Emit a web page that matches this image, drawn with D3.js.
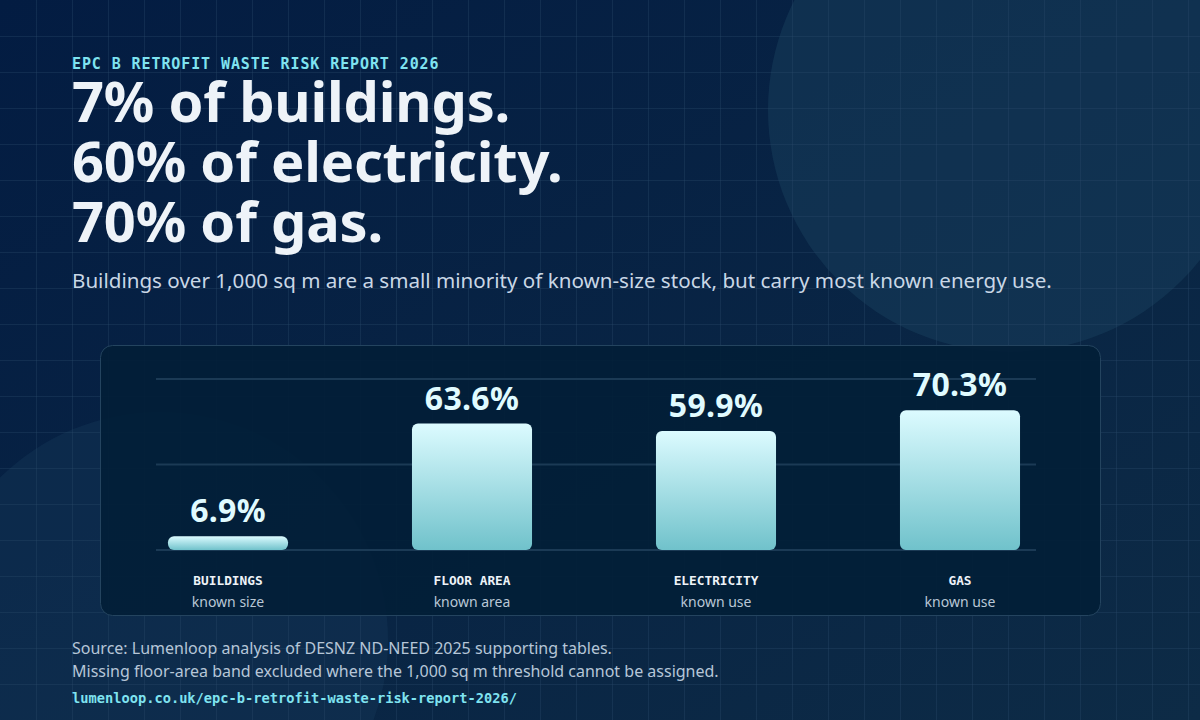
<!DOCTYPE html>
<html>
<head>
<meta charset="utf-8">
<script src="https://cdn.jsdelivr.net/npm/d3@7"></script>
<style>
  body { margin: 0; background: #041d42; }
  svg { display: block; }
</style>
</head>
<body>
<svg id="chart" width="1200" height="720"></svg>
<script>
const categories = ["BUILDINGS", "FLOOR AREA", "ELECTRICITY", "GAS"];
const subLabels = ["known size", "known area", "known use", "known use"];
const shares = [6.9, 63.6, 59.9, 70.3];
const gridTicks = [0, 43, 86];

const kicker = "EPC B RETROFIT WASTE RISK REPORT 2026";
const headline = ["7% of buildings.", "60% of electricity.", "70% of gas."];
const subtitle = "Buildings over 1,000 sq m are a small minority of known-size stock, but carry most known energy use.";
const notes = [
  "Source: Lumenloop analysis of DESNZ ND-NEED 2025 supporting tables.",
  "Missing floor-area band excluded where the 1,000 sq m threshold cannot be assigned.",
];
const link = "lumenloop.co.uk/epc-b-retrofit-waste-risk-report-2026/";

const sans = "'Noto Sans', 'Open Sans', sans-serif";
const mono = "'DejaVu Sans Mono', monospace";

const svg = d3.select("#chart");
const width = 1200, height = 720;
const defs = svg.append("defs");

// background
const bg = defs.append("linearGradient").attr("id", "bg")
  .attr("x1", 0).attr("y1", 0).attr("x2", 1).attr("y2", 1);
bg.append("stop").attr("offset", "0%").attr("stop-color", "#031c42");
bg.append("stop").attr("offset", "100%").attr("stop-color", "#0d2b46");
svg.append("rect").attr("width", width).attr("height", height).attr("fill", "url(#bg)");

svg.append("circle").attr("cx", 1010).attr("cy", 110).attr("r", 242)
  .attr("fill", "#1a4360").attr("opacity", 0.45);
svg.append("circle").attr("cx", 160).attr("cy", 640).attr("r", 228)
  .attr("fill", "#1a3f60").attr("opacity", 0.3);

const grid = svg.append("g").attr("stroke", "#2a4a6a").attr("stroke-opacity", 0.35);
grid.selectAll("line.v").data(d3.range(36, width, 36)).enter().append("line")
  .attr("x1", (d) => d + 0.5).attr("x2", (d) => d + 0.5).attr("y1", 0).attr("y2", height);
grid.selectAll("line.h").data(d3.range(36, height, 36)).enter().append("line")
  .attr("y1", (d) => d + 0.5).attr("y2", (d) => d + 0.5).attr("x1", 0).attr("x2", width);

// header
svg.append("text").attr("x", 72).attr("y", 69).text(kicker)
  .style("font-family", mono).style("font-weight", 700).style("font-size", "15px")
  .style("letter-spacing", "0.9px").attr("fill", "#7fe3f0");

svg.append("g").selectAll("text").data(headline).enter().append("text")
  .attr("x", 72).attr("y", (d, i) => 122 + i * 60).text((d) => d)
  .style("font-family", sans).style("font-weight", 700).style("font-size", "56px")
  .style("letter-spacing", "-0.2px").attr("fill", "#eef3f8");

svg.append("text").attr("x", 72).attr("y", 288).text(subtitle)
  .style("font-family", sans).style("font-size", "20.6px").attr("fill", "#c9d7e6");

// panel
const panel = { x: 100, y: 345, w: 1000, h: 270 };
svg.append("rect").attr("x", panel.x + 0.5).attr("y", panel.y + 0.5)
  .attr("width", panel.w).attr("height", panel.h).attr("rx", 12)
  .attr("fill", "#021e37").attr("fill-opacity", 0.92)
  .attr("stroke", "#24445f").attr("stroke-width", 1);

const x = d3.scaleBand().domain(categories).range([106, 1082])
  .paddingInner(0.508).paddingOuter(0.254);
const y = d3.scaleLinear().domain([0, 86]).range([550, 379]);

svg.append("g").selectAll("line").data(gridTicks).enter().append("line")
  .attr("x1", 156).attr("x2", 1036)
  .attr("y1", (d) => y(d)).attr("y2", (d) => y(d))
  .attr("stroke", "#1b3a55").attr("stroke-width", 2);

const barGrad = defs.append("linearGradient").attr("id", "bar")
  .attr("x1", 0).attr("y1", 0).attr("x2", 0).attr("y2", 1);
barGrad.append("stop").attr("offset", "0%").attr("stop-color", "#dcfbff");
barGrad.append("stop").attr("offset", "100%").attr("stop-color", "#70c2cb");

const data = categories.map((c, i) => ({ cat: c, sub: subLabels[i], v: shares[i] }));

svg.append("g").selectAll("rect").data(data).enter().append("rect")
  .attr("x", (d) => x(d.cat)).attr("width", x.bandwidth())
  .attr("y", (d) => y(d.v)).attr("height", (d) => y(0) - y(d.v))
  .attr("rx", 6).attr("fill", "url(#bar)");

svg.append("g").selectAll("text").data(data).enter().append("text")
  .attr("x", (d) => x(d.cat) + x.bandwidth() / 2).attr("y", (d) => y(d.v) - 14)
  .attr("text-anchor", "middle").text((d) => d.v.toFixed(1) + "%")
  .style("font-family", sans).style("font-weight", 700).style("font-size", "32px")
  .style("letter-spacing", "0.3px").attr("fill", "#e0fbff");

svg.append("g").selectAll("text").data(data).enter().append("text")
  .attr("x", (d) => x(d.cat) + x.bandwidth() / 2).attr("y", 585)
  .attr("text-anchor", "middle").text((d) => d.cat)
  .style("font-family", mono).style("font-weight", 700).style("font-size", "12.8px")
  .attr("fill", "#eef3f8");

svg.append("g").selectAll("text").data(data).enter().append("text")
  .attr("x", (d) => x(d.cat) + x.bandwidth() / 2).attr("y", 607)
  .attr("text-anchor", "middle").text((d) => d.sub)
  .style("font-family", sans).style("font-size", "14px")
  .attr("fill", "#b9c7d6");

// footer
svg.append("g").selectAll("text").data(notes).enter().append("text")
  .attr("x", 72).attr("y", (d, i) => 654 + i * 23).text((d) => d)
  .style("font-family", sans).style("font-size", "16px").attr("fill", "#b6c6d8");

svg.append("text").attr("x", 72).attr("y", 703).text(link)
  .style("font-family", mono).style("font-weight", 700).style("font-size", "13.7px")
  .attr("fill", "#7fe3f0");
</script>
</body>
</html>
